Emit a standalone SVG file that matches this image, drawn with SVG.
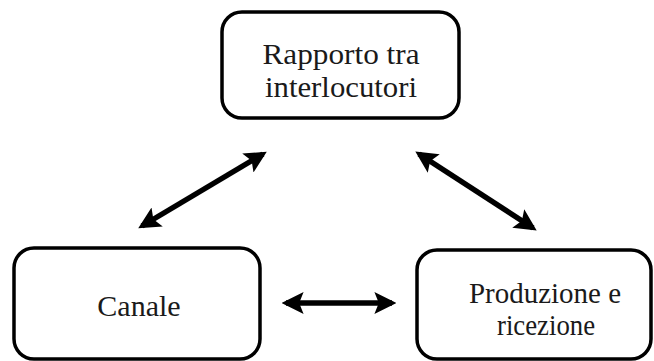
<svg xmlns="http://www.w3.org/2000/svg" width="654" height="361" viewBox="0 0 654 361">
<defs>
<style>
.box{fill:#fff;stroke:#000;stroke-width:3.5}
.lbl{font-size:30px;fill:#1a1a1a;text-anchor:middle}
.conn{stroke:#000;stroke-width:5.5;fill:none;marker-start:url(#ah);marker-end:url(#ah)}
</style>
<marker id="ah" viewBox="0 0 10 10" refX="8" refY="5" markerWidth="22" markerHeight="22" markerUnits="userSpaceOnUse" orient="auto-start-reverse">
<path d="M0,0 L10,5 L0,10 L2,5 Z" fill="#000"/>
</marker>
</defs>
<rect width="654" height="361" fill="#fff"/>
<g id="node-rapporto" font-family="Liberation Serif, Times New Roman, serif">
<rect class="box" x="222" y="12" width="237" height="106" rx="20"/>
<text class="lbl" x="341" y="64" textLength="157" lengthAdjust="spacingAndGlyphs">Rapporto tra</text>
<text class="lbl" x="341" y="97" textLength="152" lengthAdjust="spacingAndGlyphs">interlocutori</text>
</g>
<g id="node-canale" font-family="Liberation Serif, Times New Roman, serif">
<rect class="box" x="14" y="248" width="246" height="111" rx="20"/>
<text class="lbl" x="139" y="316">Canale</text>
</g>
<g id="node-produzione" font-family="Liberation Serif, Times New Roman, serif">
<rect class="box" x="417" y="250" width="234" height="109" rx="20"/>
<text class="lbl" x="545" y="303" textLength="152" lengthAdjust="spacingAndGlyphs">Produzione e</text>
<text class="lbl" x="546" y="335" textLength="98" lengthAdjust="spacingAndGlyphs">ricezione</text>
</g>
<g id="connectors">
<line class="conn" x1="142" y1="226" x2="263" y2="154"/>
<line class="conn" x1="419" y1="154" x2="533" y2="228"/>
<line class="conn" x1="286" y1="303" x2="392" y2="303"/>
</g>
</svg>
